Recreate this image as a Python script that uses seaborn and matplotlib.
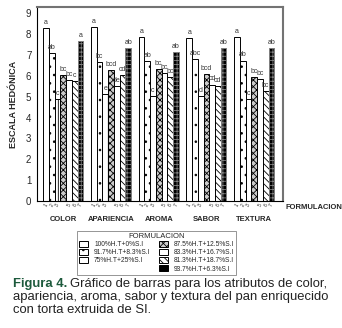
import numpy as np
import pandas as pd
import seaborn as sns
import matplotlib.pyplot as plt
from matplotlib.patches import Patch

attributes = ["COLOR", "APARIENCIA", "AROMA", "SABOR", "TEXTURA"]
formulations = ["100%H.T+0%S.I", "91.7%H.T+8.3%S.I", "75%H.T+25%S.I",
                "87.5%H.T+12.5%S.I", "83.3%H.T+16.7%S.I", "81.3%H.T+18.7%S.I",
                "93.7%H.T+6.3%S.I"]

# mean scores per formulation, one list per attribute
color = [8.29, 7.08, 4.90, 6.02, 5.81, 5.73, 7.68]
apariencia = [8.34, 6.68, 5.12, 6.27, 5.50, 6.02, 7.35]
aroma = [7.84, 6.71, 5.02, 6.32, 6.13, 5.92, 7.12]
sabor = [7.82, 6.80, 5.05, 6.10, 5.58, 5.50, 7.31]
textura = [7.87, 6.73, 4.90, 5.92, 5.83, 5.29, 7.31]

# significance letters
let_color = ["a", "ab", "c", "bc", "bc", "c", "a"]
let_apariencia = ["a", "bc", "e", "bcd", "de", "cd", "ab"]
let_aroma = ["a", "ab", "c", "bc", "bc", "bc", "ab"]
let_sabor = ["a", "abc", "d", "bcd", "cd", "cd", "ab"]
let_textura = ["a", "ab", "c", "bc", "bc", "bc", "ab"]

values = [color, apariencia, aroma, sabor, textura]
letters = [let_color, let_apariencia, let_aroma, let_sabor, let_textura]

rows = []
for a, vals, lets in zip(attributes, values, letters):
    for f, v, l in zip(formulations, vals, lets):
        rows.append({"atributo": a, "formulacion": f, "score": v, "letra": l})
df = pd.DataFrame(rows)

sns.set_style("white")
plt.rcParams['font.family'] = ['Liberation Sans', 'DejaVu Sans']
plt.rcParams['hatch.linewidth'] = 0.6

fig = plt.figure(figsize=(3.42, 3.28), dpi=100)
ax = fig.add_axes([0.108, 0.387, 0.719, 0.592])

sns.barplot(data=df, x="atributo", y="score", hue="formulacion",
            order=attributes, hue_order=formulations, width=0.84,
            ax=ax, legend=False, edgecolor="black", linewidth=0.7)

faces = ["white", "white", "white", "0.8", "white", "white", "black"]
hatches = [None, "..", "|", "xxxxx", None, "\\\\\\\\\\", "++++"]
edges = ["black", "black", "black", "black", "black", "black", "0.5"]

patches = [p for p in ax.patches if p.get_height() > 0]
n = len(attributes)
for k, f in enumerate(formulations):
    for j in range(n):
        p = patches[k * n + j]
        p.set_facecolor(faces[k])
        p.set_edgecolor(edges[k])
        if hatches[k]:
            p.set_hatch(hatches[k])
        ax.text(p.get_x() + p.get_width() / 2, p.get_height() + 0.1,
                letters[j][k], ha="center", va="bottom", fontsize=5,
                color="#333333")

ax.set_ylim(0, 9.3)
ax.set_xlim(-0.55, 4.6)
ax.set_yticks(range(0, 10))
ax.tick_params(axis="y", labelsize=7, length=2, pad=2)
ax.set_ylabel("ESCALA HEDÓNICA", fontsize=6.5, fontweight="bold", labelpad=6)
ax.set_xlabel("")

# tiny rotated formulation ticks under every bar
centers = sorted(p.get_x() + p.get_width() / 2 for p in patches)
ax.set_xticks(centers, minor=True)
ax.set_xticklabels([str(i % 7 + 1) for i in range(len(centers))], minor=True,
                   rotation=60, fontsize=3.5)
ax.tick_params(axis="x", which="minor", length=0, pad=1)
ax.set_xticks(range(n))
ax.set_xticklabels(attributes, fontsize=5.5, fontweight="bold")
ax.tick_params(axis="x", which="major", length=0, pad=11)
ax.text(1.01, -0.035, "FORMULACION", transform=ax.transAxes, fontsize=5.5,
        fontweight="bold", ha="left", va="center")

for s in ["left", "bottom"]:
    ax.spines[s].set_color("black")
    ax.spines[s].set_linewidth(0.8)
for s in ["top", "right"]:
    ax.spines[s].set_color("0.45")
    ax.spines[s].set_linewidth(1.5)

handles = []
for k, f in enumerate(formulations):
    handles.append(Patch(facecolor=faces[k], edgecolor=edges[k] if k != 6 else "black",
                         hatch=hatches[k], label=f, linewidth=0.7))
blank = Patch(facecolor="none", edgecolor="none", label="")
order = [handles[0], handles[1], handles[2], blank,
         handles[3], handles[4], handles[5], handles[6]]
leg = fig.legend(handles=order, labels=[h.get_label() for h in order], ncol=2,
                 loc="upper center", bbox_to_anchor=(0.458, 0.307),
                 fontsize=4.8, title="FORMULACION", title_fontsize=5.5,
                 frameon=True, fancybox=False, edgecolor="0.4",
                 handlelength=1.4, handleheight=1.0, columnspacing=1.2,
                 labelspacing=0.15, borderpad=0.3, handletextpad=0.9)
leg.get_frame().set_linewidth(0.6)

# caption
fig.canvas.draw()
r = fig.canvas.get_renderer()
t = fig.text(0.038, 0.134, "Figura 4.", fontsize=9.4, fontweight="bold",
             color="#1d5a3c", va="center")
bb = t.get_window_extent(renderer=r)
x2 = (bb.x1 + 3) / fig.bbox.width
fig.text(x2, 0.134, "Gráfico de barras para los atributos de color,",
         fontsize=9.4, color="#222222", va="center")
fig.text(0.038, 0.094, "apariencia, aroma, sabor y textura del pan enriquecido",
         fontsize=9.4, color="#222222", va="center")
fig.text(0.038, 0.054, "con torta extruida de SI.", fontsize=9.4,
         color="#222222", va="center")

plt.savefig("out.png", dpi=100)
